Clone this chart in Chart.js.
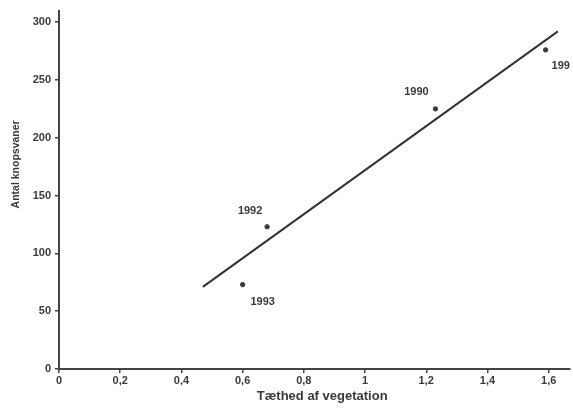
<!DOCTYPE html>
<html lang="da">
<head>
  <meta charset="UTF-8">
  <title>Antal knopsvaner</title>
  <script src="https://cdn.jsdelivr.net/npm/chart.js"></script>
  <style>
    html, body { margin: 0; padding: 0; background: #fff; }
    #wrap { width: 573px; height: 412px; position: relative; }
  </style>
</head>
<body>
  <div id="wrap"><canvas id="swanChart"></canvas></div>

  <script>
    // Observations: vegetation density vs number of mute swans
    const years = ['1993', '1992', '1990', '199'];
    const density = [0.60, 0.68, 1.23, 1.59];
    const swans = [73, 123, 225, 276];

    // Fitted trend line (end points)
    const trendX = [0.47, 1.63];
    const trendY = [71, 292];

    const xTicks = [0, 0.2, 0.4, 0.6, 0.8, 1, 1.2, 1.4, 1.6];
    const yTicks = [0, 50, 100, 150, 200, 250, 300];

    const xTitle = 'Tæthed af vegetation';
    const yTitle = 'Antal knopsvaner';

    // Label offsets relative to each point (px) and alignment
    const labelOffsets = [[20, 17, 'center'], [-17, -16, 'center'], [-19, -17, 'center'], [6, 16, 'left']];

    const ink = '#3a3a3a';
    const font = "'Liberation Sans', Arial, sans-serif";

    // Draws the year next to every point, plus both axis titles
    const chartText = {
      id: 'chartText',
      afterDatasetsDraw(chart) {
        const { ctx, scales } = chart;
        ctx.save();
        ctx.fillStyle = ink;
        ctx.font = 'bold 11px ' + font;
        ctx.textBaseline = 'middle';
        years.forEach((label, i) => {
          const px = scales.x.getPixelForValue(density[i]);
          const py = scales.y.getPixelForValue(swans[i]);
          const [dx, dy, align] = labelOffsets[i];
          ctx.textAlign = align;
          ctx.fillText(label, px + dx, py + dy);
        });

        // x title
        ctx.textAlign = 'center';
        ctx.font = 'bold 13px ' + font;
        ctx.fillText(xTitle, scales.x.getPixelForValue(0.86), 396);

        // y title, rotated
        ctx.font = 'bold 10.5px ' + font;
        ctx.translate(16, scales.y.getPixelForValue(177));
        ctx.rotate(-Math.PI / 2);
        ctx.fillText(yTitle, 0, 0);
        ctx.restore();
      }
    };

    new Chart(document.getElementById('swanChart'), {
      type: 'scatter',
      data: {
        datasets: [
          {
            label: 'Observationer',
            data: density.map((x, i) => ({ x: x, y: swans[i] })),
            backgroundColor: ink,
            borderColor: ink,
            pointRadius: 2.2,
            pointHoverRadius: 2.2
          },
          {
            label: 'Tendens',
            data: trendX.map((x, i) => ({ x: x, y: trendY[i] })),
            showLine: true,
            borderColor: '#333',
            borderWidth: 2,
            pointRadius: 0,
            fill: false
          }
        ]
      },
      options: {
        responsive: true,
        maintainAspectRatio: false,
        animation: false,
        layout: { padding: { top: 10, right: -3, left: 0, bottom: 0 } },
        plugins: {
          legend: { display: false },
          tooltip: { enabled: false }
        },
        scales: {
          x: {
            type: 'linear',
            min: 0,
            max: 1.669,
            afterFit(scale) { scale.height = 43; scale.paddingRight = 0; scale.paddingLeft = 0; },
            afterBuildTicks(scale) { scale.ticks = xTicks.map(v => ({ value: v })); },
            border: { display: true, color: '#444', width: 2 },
            grid: { display: true, drawOnChartArea: false, drawTicks: true, tickLength: 4, color: '#444', lineWidth: 1.5 },
            ticks: {
              color: ink,
              padding: 1,
              font: { family: font, size: 11, weight: 'bold' },
              callback: v => String(v).replace('.', ',')
            }
          },
          y: {
            type: 'linear',
            min: 0,
            max: 310,
            afterFit(scale) { scale.width = 59; },
            afterBuildTicks(scale) { scale.ticks = yTicks.map(v => ({ value: v })); },
            border: { display: true, color: '#444', width: 2 },
            grid: { display: true, drawOnChartArea: false, drawTicks: true, tickLength: 4, color: '#444', lineWidth: 1.5 },
            ticks: {
              color: ink,
              padding: 4,
              font: { family: font, size: 11, weight: 'bold' }
            }
          }
        }
      },
      plugins: [chartText]
    });
  </script>
</body>
</html>
